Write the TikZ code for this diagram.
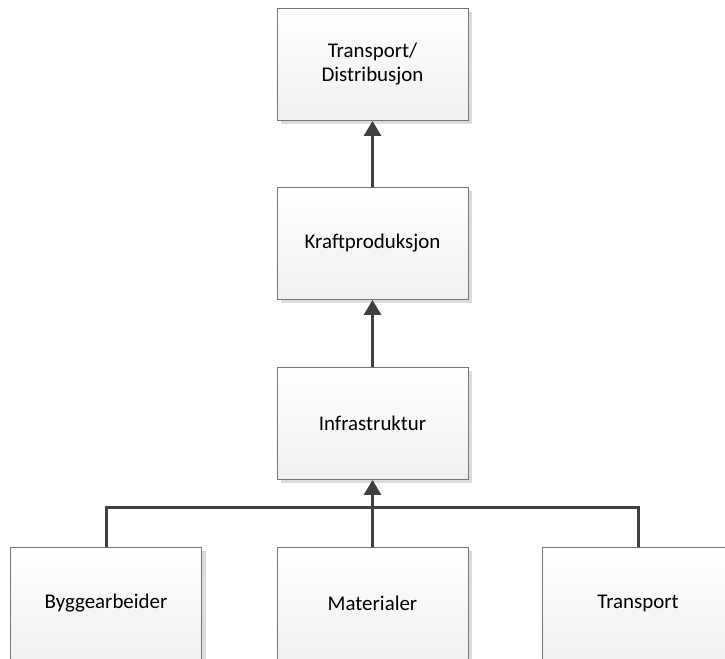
\documentclass[tikz,border=0pt]{standalone}
\usepackage{fontspec}
\setmainfont{Carlito}
\usetikzlibrary{arrows.meta,shadows}
\definecolor{linegray}{HTML}{404040}
\definecolor{boxborder}{HTML}{767676}
\definecolor{shadowgray}{HTML}{DCDCDC}
\tikzset{
  block/.style={draw=boxborder, line width=0.9bp, minimum width=191bp, minimum height=112bp,
    top color=white, bottom color=black!6, align=center, inner sep=0pt,
    font=\fontsize{21}{25}\selectfont,
    drop shadow={shadow xshift=4bp, shadow yshift=-4bp, fill=shadowgray, opacity=1}},
  link/.style={draw=linegray, line width=3bp},
  flow/.style={link, -{Triangle[width=17bp,length=15bp]}, shorten >=0.5bp}
}
\begin{document}
\begin{tikzpicture}[x=1bp,y=-1bp]
  \useasboundingbox (0,0) rectangle (725,659);
  \node[block] (dist)  at (372.5,64)  {Transport/\\Distribusjon};
  \node[block] (kraft) at (372.5,243) {Kraftproduksjon};
  \node[block] (infra) at (372.5,423) {Infrastruktur};
  \node[block] (bygg)  at (106,603)   {Byggearbeider};
  \node[block] (mat)   at (372.5,603) {Materialer};
  \node[block] (trans) at (638,603)   {Transport};
  \coordinate (bus) at (372.5,507);
  \draw[flow] (kraft.north) -- (dist.south);
  \draw[flow] (infra.north) -- (kraft.south);
  \draw[link] (bygg.north) |- (bus) -| (trans.north);
  \draw[flow] (mat.north) -- (infra.south);
\end{tikzpicture}
\end{document}
